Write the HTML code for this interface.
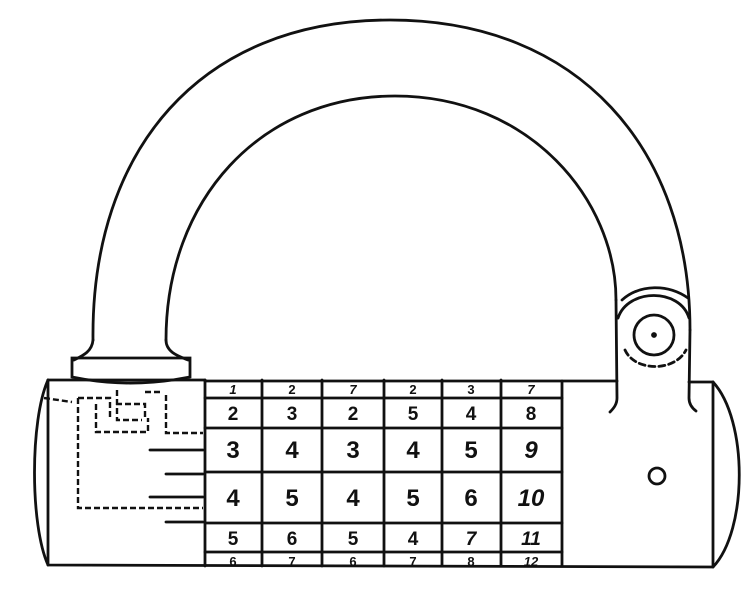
<!DOCTYPE html>
<html><head><style>
html,body{margin:0;padding:0;background:#fff;}
svg{display:block;}
text{font-family:"Liberation Sans",sans-serif;font-weight:bold;fill:#111;text-anchor:middle;}
.i{font-style:italic;}
</style></head><body>
<svg width="755" height="600" viewBox="0 0 755 600" xmlns="http://www.w3.org/2000/svg">
<g fill="none" stroke="#111" stroke-width="2.8" stroke-linecap="round">
<path d="M93,340 C91,150 200,20 390,20 C580,20 690,150 690,330"/>
<path d="M166,340 C166,200 260,96 395,96 C530,96 616,200 616,300"/>
<path d="M93,340 C92,352 82,356 74,360"/>
<path d="M166,340 C166,352 178,356 188,360"/>
<path d="M72,358 L190,358 L190,377 C150,385 110,385 72,377 Z"/>
<path d="M616,300 L617,398 C617,404 614,408 610,412"/>
<path d="M690,330 L689,398 C689,404 692,408 696,411"/>
<path d="M622,300 C640,284 668,284 688,298"/>
<path d="M618,318 C628,288 680,288 689,318"/>
<circle cx="654" cy="335" r="20"/>
<circle cx="654" cy="335" r="1.5" fill="#111"/>
<path d="M625,350 C635,372 675,372 686,350" stroke-dasharray="6,4"/>
<path d="M48,380 L205,380 M205,381 L617,381 M689,382 L713,382"/>
<path d="M48,380 L48,565 M48,565 L713,567 M713,382 L713,567"/>
<path d="M48,380 C30,420 30,525 48,565"/>
<path d="M713,382 C748,420 748,530 713,567"/>
<circle cx="657" cy="476" r="8"/>
<path d="M205,380 L205,566 M262,380 L262,566 M322,380 L322,566 M384,380 L384,566 M442,380 L442,566 M501,380 L501,566 M562,381 L562,566"/>
<path d="M205,398 L562,398 M205,428 L562,428 M205,472 L562,472 M205,523 L562,523 M205,552 L562,552"/>
<path d="M150,450 L203,450 M166,474 L203,474 M150,497 L203,497 M166,522 L203,522"/>
</g>
<g fill="none" stroke="#111" stroke-width="2.4" stroke-dasharray="6,3">
<path d="M44,398 L72,402 M78,398 L78,508 L203,508"/>
<path d="M78,398 L110,398 L110,420 M96,404 L96,432 L148,432 L148,418 M116,404 L145,404 L145,420 M117,390 L117,420 L142,420"/>
<path d="M166,395 L166,433 L203,433"/>
<path d="M145,392 L160,392"/>
</g>
<g>
<text x="233" y="394" font-size="13" class="i">1</text><text x="292" y="394" font-size="13">2</text><text x="353" y="394" font-size="13" class="i">7</text><text x="413" y="394" font-size="13">2</text><text x="471" y="394" font-size="13">3</text><text x="531" y="394" font-size="13" class="i">7</text>
<text x="233" y="420" font-size="19">2</text><text x="292" y="420" font-size="19">3</text><text x="353" y="420" font-size="19">2</text><text x="413" y="420" font-size="19">5</text><text x="471" y="420" font-size="19">4</text><text x="531" y="420" font-size="19">8</text>
<text x="233" y="458" font-size="24">3</text><text x="292" y="458" font-size="24">4</text><text x="353" y="458" font-size="24">3</text><text x="413" y="458" font-size="24">4</text><text x="471" y="458" font-size="24">5</text><text x="531" y="458" font-size="24" class="i">9</text>
<text x="233" y="506" font-size="24">4</text><text x="292" y="506" font-size="24">5</text><text x="353" y="506" font-size="24">4</text><text x="413" y="506" font-size="24">5</text><text x="471" y="506" font-size="24">6</text><text x="531" y="506" font-size="24" class="i">10</text>
<text x="233" y="545" font-size="19">5</text><text x="292" y="545" font-size="19">6</text><text x="353" y="545" font-size="19">5</text><text x="413" y="545" font-size="19">4</text><text x="471" y="545" font-size="19" class="i">7</text><text x="531" y="545" font-size="19" class="i">11</text>
<text x="233" y="566" font-size="13">6</text><text x="292" y="566" font-size="13">7</text><text x="353" y="566" font-size="13">6</text><text x="413" y="566" font-size="13">7</text><text x="471" y="566" font-size="13">8</text><text x="531" y="566" font-size="13" class="i">12</text>
</g>
</svg>
</body></html>
